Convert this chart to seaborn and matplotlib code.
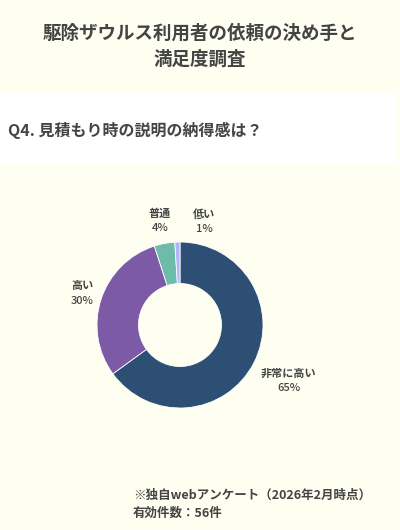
"""Donut chart: 見積もり時の説明の納得感 (Q4)."""

import numpy as np
import matplotlib
matplotlib.use("Agg")
import matplotlib.pyplot as plt
import matplotlib.patches as mpatches
import seaborn as sns

# ---- data ----
categories = ["非常に高い", "高い", "普通", "低い"]
shares = [65, 30, 4, 1]
colors = ["#2C4F73", "#7C5AA6", "#6DBBA9", "#B0B4F8"]

title_lines = ["駆除ザウルス利用者の依頼の決め手と", "満足度調査"]
question = "Q4. 見積もり時の説明の納得感は？"
footnote = ["※独自webアンケート（2026年2月時点）", "有効件数：56件"]

BG = "#FEFEF1"
TEXT = "#444444"

sns.set_style("white")
plt.rcParams["font.family"] = ["Noto Sans CJK JP", "DejaVu Sans"]

fig = plt.figure(figsize=(4.0, 5.3), dpi=100)
fig.patch.set_facecolor(BG)

# white band behind the question
fig.patches.append(mpatches.Rectangle((0, 1 - 163 / 530), 397 / 400, 70 / 530,
                                      transform=fig.transFigure,
                                      facecolor="white", edgecolor="none", zorder=0))

fig.text(0.5, 1 - 33 / 530, title_lines[0], ha="center", va="center",
         fontsize=13.3, fontweight="bold", color=TEXT)
fig.text(0.5, 1 - 59 / 530, title_lines[1], ha="center", va="center",
         fontsize=13.3, fontweight="bold", color=TEXT)
fig.text(8 / 400, 1 - 130 / 530, question, ha="left", va="center",
         fontsize=11.5, fontweight="bold", color=TEXT)

# ---- donut ----
ax = fig.add_axes([97 / 400, 1 - 408 / 530, 166 / 400, 166 / 530])
ax.set_facecolor(BG)
wedges, _ = ax.pie(shares, colors=colors, startangle=90, counterclock=False,
                   radius=1.0, wedgeprops=dict(width=0.5, edgecolor="white", linewidth=0.6))
ax.set_xlim(-1, 1)
ax.set_ylim(-1, 1)
ax.set_aspect("equal")
ax.axis("off")

# labels anchored just outside the ring, box pushed outward along the wedge angle
renderer = fig.canvas.get_renderer()
px = 83.0          # pixels per data unit (radius)
anchor = 1.07      # anchor radius (data units)
gap = 7.5 / px     # half line spacing
nudge = [0, 0, 0, -15]   # small angle nudge so 普通/低い do not collide
for w, name, val, dn in zip(wedges, categories, shares, nudge):
    t1 = ax.text(0, 0, name, ha="center", va="center", fontsize=8,
                 fontweight="bold", color=TEXT, clip_on=False)
    t2 = ax.text(0, 0, f"{val}%", ha="center", va="center", fontsize=8,
                 fontweight="medium", color=TEXT, clip_on=False)
    bw = max(t1.get_window_extent(renderer).width, t2.get_window_extent(renderer).width)
    hw = (bw / 2 + 2) / px
    hh = (15 + 2) / px
    ang = np.deg2rad((w.theta1 + w.theta2) / 2 + dn)
    c, s = np.cos(ang), np.sin(ang)
    ext = min(hw / max(abs(c), 1e-6), hh / max(abs(s), 1e-6))
    r = anchor + ext
    x, y = r * c, r * s
    t1.set_position((x, y + gap))
    t2.set_position((x, y - gap))

fig.text(133 / 400, 1 - 495 / 530, footnote[0], ha="left", va="center",
         fontsize=9, fontweight="bold", color=TEXT)
fig.text(133 / 400, 1 - 513 / 530, footnote[1], ha="left", va="center",
         fontsize=9, fontweight="bold", color=TEXT)

fig.savefig("out.png", dpi=100, facecolor=BG)
